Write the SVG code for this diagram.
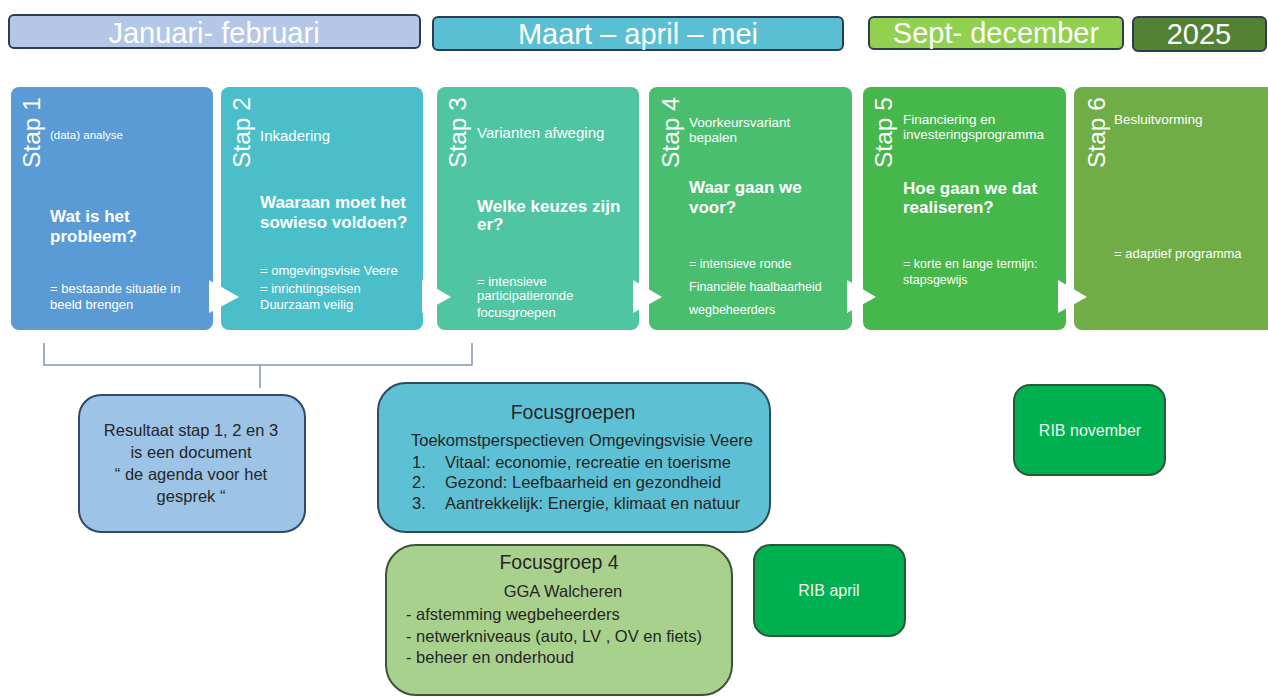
<svg xmlns="http://www.w3.org/2000/svg" width="1268" height="697" viewBox="0 0 1268 697">
<style>
text{font-family:"Liberation Sans",Arial,sans-serif}
.bar rect{stroke:#2f3b55;stroke-width:2}
.bar text{fill:#ffffff;font-size:29px;text-anchor:middle}
.step text{fill:#ffffff}
.st{font-size:24.5px}
.lbl{font-size:13.5px}
.q{font-size:17px;font-weight:bold}
.d{font-size:13px}
.d2{font-size:12.5px}
.chev{fill:#ffffff}
.note rect{stroke-width:2}
.note text{fill:#262626;font-size:16.5px}
.rib rect{fill:#00b050;stroke:#2b5a3a;stroke-width:2}
.rib text{fill:#f2f7f2;font-size:16px;text-anchor:middle}
#connectors path{fill:none;stroke:#8497b0;stroke-width:1.5}
</style>

<g id="bar-jan" class="bar"><rect x="9" y="15" width="411" height="33" rx="5" fill="#b4c7e7"/><text x="214" y="43">Januari- februari</text></g>
<g id="bar-maart" class="bar"><rect x="433" y="17" width="410" height="33" rx="5" fill="#5bbfd3"/><text x="638" y="44">Maart – april – mei</text></g>
<g id="bar-sept" class="bar"><rect x="869" y="17" width="254" height="32" rx="5" fill="#92d050"/><text x="996" y="43">Sept- december</text></g>
<g id="bar-2025" class="bar"><rect x="1133" y="17" width="133" height="34" rx="5" fill="#548235"/><text x="1199" y="44">2025</text></g>

<g id="stap1" class="step">
<rect x="11" y="87" width="202" height="243" rx="8" fill="#5b9bd5"/>
<text class="st" transform="translate(40,168) rotate(-90)">Stap 1</text>
<text x="50" y="139" style="font-size:11.5px">(data) analyse</text>
<text class="q" x="50" y="222">Wat is het</text>
<text class="q" x="50" y="242">probleem?</text>
<text class="d" x="50" y="293">= bestaande situatie in</text>
<text class="d" x="50" y="309">beeld brengen</text>
</g>
<g id="stap2" class="step">
<rect x="221" y="87" width="202" height="243" rx="8" fill="#4bbfc9"/>
<text class="st" transform="translate(250,168) rotate(-90)">Stap 2</text>
<text x="260" y="141" style="font-size:15px">Inkadering</text>
<text class="q" x="260" y="208">Waaraan moet het</text>
<text class="q" x="260" y="228">sowieso voldoen?</text>
<text class="d" x="260" y="275">= omgevingsvisie Veere</text>
<text class="d" x="260" y="293">= inrichtingseisen</text>
<text class="d" x="260" y="309">Duurzaam veilig</text>
</g>
<g id="stap3" class="step">
<rect x="437" y="87" width="202" height="243" rx="8" fill="#4fc6a1"/>
<text class="st" transform="translate(466,168) rotate(-90)">Stap 3</text>
<text x="477" y="138" style="font-size:15px">Varianten afweging</text>
<text class="q" x="477" y="212">Welke keuzes zijn</text>
<text class="q" x="477" y="230">er?</text>
<text class="d" x="477" y="286">= intensieve</text>
<text class="d" x="477" y="300">participatieronde</text>
<text class="d" x="477" y="317">focusgroepen</text>
</g>
<g id="stap4" class="step">
<rect x="649" y="87" width="203" height="243" rx="8" fill="#49be6f"/>
<text class="st" transform="translate(679,168) rotate(-90)">Stap 4</text>
<text class="lbl" x="689" y="127">Voorkeursvariant</text>
<text class="lbl" x="689" y="142">bepalen</text>
<text class="q" x="689" y="193">Waar gaan we</text>
<text class="q" x="689" y="213">voor?</text>
<text class="d2" x="689" y="268">= intensieve ronde</text>
<text class="d2" x="689" y="291">Financiële haalbaarheid</text>
<text class="d2" x="689" y="314">wegbeheerders</text>
</g>
<g id="stap5" class="step">
<rect x="863" y="87" width="203" height="243" rx="8" fill="#45b74b"/>
<text class="st" transform="translate(892,168) rotate(-90)">Stap 5</text>
<text class="lbl" x="903" y="124">Financiering en</text>
<text class="lbl" x="903" y="139">investeringsprogramma</text>
<text class="q" x="903" y="194">Hoe gaan we dat</text>
<text class="q" x="903" y="213">realiseren?</text>
<text class="d2" x="903" y="268">= korte en lange termijn:</text>
<text class="d2" x="903" y="284">stapsgewijs</text>
</g>
<g id="stap6" class="step">
<rect x="1074" y="87" width="204" height="243" rx="8" fill="#70ad47"/>
<text class="st" transform="translate(1105,168) rotate(-90)">Stap 6</text>
<text class="lbl" x="1114" y="124">Besluitvorming</text>
<text class="d" x="1114" y="258">= adaptief programma</text>
</g>

<g id="chevrons">
<polygon class="chev" points="209,280 239,297 209,313"/>
<polygon class="chev" points="422,280 451,297 422,313"/>
<polygon class="chev" points="633,280 662,297 633,313"/>
<polygon class="chev" points="847,280 876,297 847,313"/>
<polygon class="chev" points="1058,280 1087,297 1058,313"/>
</g>

<g id="connectors">
<path d="M44,343 V365 H472 V343"/>
<path d="M260,365 V388"/>
</g>

<g id="resultaat" class="note">
<rect x="79" y="395" width="226" height="137" rx="22" fill="#9dc3e6" stroke="#2f4b6a"/>
<text text-anchor="middle" x="191" y="436">Resultaat stap 1, 2 en 3</text>
<text text-anchor="middle" x="191" y="458">is een document</text>
<text text-anchor="middle" x="191" y="480">“ de agenda voor het</text>
<text text-anchor="middle" x="191" y="502">gesprek “</text>
</g>

<g id="focusgroepen" class="note">
<rect x="378" y="383" width="392" height="149" rx="28" fill="#5ec0d4" stroke="#2c4d5c"/>
<text text-anchor="middle" x="573" y="419" style="font-size:19.5px">Focusgroepen</text>
<text text-anchor="middle" x="582" y="446">Toekomstperspectieven Omgevingsvisie Veere</text>
<text x="412" y="468">1.</text><text x="445" y="468">Vitaal: economie, recreatie en toerisme</text>
<text x="412" y="488">2.</text><text x="445" y="488">Gezond: Leefbaarheid en gezondheid</text>
<text x="412" y="509">3.</text><text x="445" y="509">Aantrekkelijk: Energie, klimaat en natuur</text>
</g>

<g id="focusgroep4" class="note">
<rect x="386" y="545" width="346" height="150" rx="30" fill="#a9d18e" stroke="#3b5337"/>
<text text-anchor="middle" x="559" y="569" style="font-size:19.5px">Focusgroep 4</text>
<text text-anchor="middle" x="563" y="597">GGA Walcheren</text>
<text x="406" y="620">- afstemming wegbeheerders</text>
<text x="406" y="642">- netwerkniveaus (auto, LV , OV en fiets)</text>
<text x="406" y="663">- beheer en onderhoud</text>
</g>

<g id="rib-april" class="rib">
<rect x="754" y="545" width="151" height="91" rx="16"/>
<text x="829" y="596">RIB april</text>
</g>

<g id="rib-november" class="rib">
<rect x="1014" y="385" width="151" height="90" rx="16"/>
<text x="1090" y="436">RIB november</text>
</g>
</svg>
